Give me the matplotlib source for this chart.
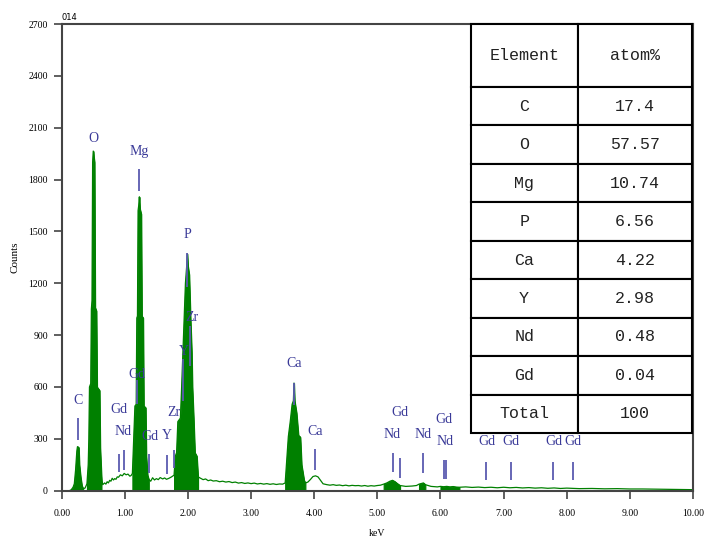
import numpy as np
import matplotlib.pyplot as plt

# EDS spectrum (keV, counts)
energy_kev = [0.00, 0.12, 0.15, 0.18, 0.20, 0.22, 0.24, 0.25, 0.27, 0.28, 0.30, 0.32, 0.34,
              0.37, 0.40, 0.42, 0.43, 0.44, 0.46, 0.47, 0.48, 0.49, 0.50, 0.51, 0.52, 0.53,
              0.55, 0.56, 0.60, 0.61, 0.63, 0.65, 0.68, 0.70, 0.72, 0.74, 0.76, 0.78, 0.80,
              0.82, 0.84, 0.86, 0.88, 0.90, 0.93, 0.96, 0.99, 1.02, 1.05, 1.08, 1.10, 1.12,
              1.14, 1.16, 1.18, 1.19, 1.20, 1.21, 1.22, 1.23, 1.24, 1.26, 1.27, 1.29, 1.30,
              1.33, 1.34, 1.36, 1.38, 1.41, 1.44, 1.47, 1.50, 1.53, 1.56, 1.60, 1.63, 1.66,
              1.70, 1.74, 1.78, 1.80, 1.82, 1.84, 1.88, 1.90, 1.92, 1.94, 1.96, 1.98, 1.99,
              2.00, 2.02, 2.04, 2.06, 2.07, 2.09, 2.11, 2.14, 2.16, 2.20, 2.24, 2.28, 2.32,
              2.36, 2.40, 2.45, 2.50, 2.55, 2.60, 2.65, 2.70, 2.75, 2.80, 2.85, 2.90, 2.95,
              3.00, 3.05, 3.10, 3.15, 3.20, 3.25, 3.30, 3.35, 3.40, 3.45, 3.50, 3.54, 3.56,
              3.59, 3.62, 3.65, 3.67, 3.68, 3.69, 3.72, 3.75, 3.78, 3.80, 3.84, 3.86, 3.90,
              3.94, 3.98, 4.02, 4.06, 4.10, 4.14, 4.20, 4.25, 4.30, 4.35, 4.40, 4.45, 4.50,
              4.55, 4.60, 4.65, 4.70, 4.75, 4.80, 4.85, 4.90, 4.95, 5.00, 5.05, 5.10, 5.15,
              5.20, 5.24, 5.28, 5.32, 5.36, 5.45, 5.55, 5.62, 5.66, 5.70, 5.73, 5.76, 5.85,
              5.95, 6.00, 6.05, 6.10, 6.15, 6.20, 6.25, 6.30, 6.40, 6.50, 6.60, 6.70, 6.80,
              6.90, 7.00, 7.10, 7.20, 7.30, 7.40, 7.50, 7.60, 7.70, 7.80, 7.90, 8.00, 8.20,
              8.40, 8.60, 8.80, 9.00, 9.20, 9.40, 9.60, 9.80, 10.00]
counts = [0, 0, 5, 20, 40, 120, 230, 255, 250, 150, 80, 30, 12,
          15, 40, 150, 300, 600, 620, 1050, 1100, 1900, 1965, 1930, 1900, 1060,
          1040, 600, 580, 250, 80, 35, 45, 38, 52, 45, 60, 55, 72,
          62, 70, 66, 80, 78, 92, 86, 100, 92, 96, 84, 88, 100,
          300, 490, 500, 1000, 1010, 1620, 1650, 1700, 1630, 1600, 1010, 1000, 490,
          480, 200, 90, 65, 55, 75, 62, 70, 64, 76, 68, 74, 66,
          72, 80, 90, 200, 220, 400, 420, 600, 800, 1000, 1200, 1300, 1370,
          1300, 1250, 1000, 800, 600, 420, 220, 200, 80, 72, 64, 68, 58,
          62, 56, 58, 52, 55, 50, 53, 47, 50, 44, 47, 42, 45,
          41, 44, 39, 42, 38, 41, 37, 40, 36, 39, 38, 45, 150,
          313, 400, 500, 520, 623, 520, 450, 320, 310, 150, 60, 45, 50,
          65, 82, 86, 80, 60, 40, 35, 32, 35, 31, 33, 29, 32,
          28, 31, 29, 30, 27, 30, 26, 29, 27, 30, 32, 38, 45,
          55, 60, 52, 40, 30, 25, 27, 30, 38, 42, 45, 35, 25,
          22, 25, 23, 25, 22, 24, 21, 20, 22, 19, 21, 18, 20,
          17, 20, 17, 19, 16, 18, 15, 17, 14, 16, 13, 15, 12,
          13, 11, 12, 10, 10, 9, 8, 7, 6]

# highlighted (filled) regions of interest
roi_start = [0.15, 0.40, 1.12, 1.78, 3.54, 5.10, 5.66, 6.00]
roi_end = [0.34, 0.63, 1.38, 2.16, 3.86, 5.36, 5.76, 6.30]

# element marker lines: energy, bottom, top (counts)
marker_kev = [0.26, 0.91, 0.98, 1.19, 1.23, 1.39, 1.67, 1.78, 1.92, 1.99, 2.03, 3.68, 4.01,
              5.24, 5.36, 5.73, 6.06, 6.09, 6.72, 7.11, 7.79, 8.10]
marker_lo = [294, 110, 120, 500, 1732, 103, 97, 130, 520, 1180, 720, 497, 120,
             110, 72, 103, 68, 68, 62, 62, 62, 62]
marker_hi = [422, 213, 236, 640, 1859, 213, 207, 235, 760, 1378, 950, 625, 240,
             219, 190, 218, 178, 178, 168, 168, 168, 168]

# element labels: text, energy, counts (centre)
label_text = ['O', 'Mg', 'P', 'Zr', 'Y', 'Gd', 'C', 'Gd', 'Nd', 'Gd', 'Y', 'Zr', 'Ca', 'Ca',
              'Gd', 'Nd', 'Nd', 'Gd', 'Nd', 'Gd', 'Gd', 'Gd', 'Gd']
label_kev = [0.51, 1.23, 1.99, 2.06, 1.93, 1.19, 0.26, 0.91, 0.98, 1.40, 1.67, 1.77, 3.68, 4.01,
             5.36, 5.23, 5.72, 6.06, 6.07, 6.73, 7.11, 7.79, 8.10]
label_cnt = [2040, 1964, 1483, 1000, 803, 671, 520, 472, 342, 313, 317, 452, 735, 342,
             452, 323, 323, 414, 284, 284, 284, 284, 284]

elements = ['C', 'O', 'Mg', 'P', 'Ca', 'Y', 'Nd', 'Gd', 'Total']
atom_pct = ['17.4', '57.57', '10.74', '6.56', '4.22', '2.98', '0.48', '0.04', '100']

green = '#008000'
blue_line = '#5a5ab0'
blue_text = '#3a3a98'

fig = plt.figure(figsize=(7.14, 5.43), dpi=100)
ax = fig.add_axes([0.0864, 0.0963, 0.8842, 0.8595])

e = np.array(energy_kev)
c = np.array(counts)
ax.plot(e, c, color=green, lw=0.9, zorder=2)
for a, b in zip(roi_start, roi_end):
    m = (e >= a) & (e <= b)
    ax.fill_between(e[m], 0, c[m], color=green, lw=0.8, edgecolor=green, zorder=2)

ax.vlines(marker_kev, marker_lo, marker_hi, color=blue_line, lw=1.3, zorder=3)
for t, x, y in zip(label_text, label_kev, label_cnt):
    ax.text(x, y, t, color=blue_text, fontsize=10, family='Liberation Serif',
            ha='center', va='center', zorder=4)

ax.set_xlim(0, 10)
ax.set_ylim(0, 2700)
ax.set_xticks(np.arange(0, 11, 1))
ax.set_xticklabels(['%.2f' % v for v in range(11)])
ax.set_yticks(np.arange(0, 2701, 300))
ax.tick_params(direction='out', length=6, width=1.2, color='#444444',
               labelsize=7, pad=4)
for lab in ax.get_xticklabels() + ax.get_yticklabels():
    lab.set_family('Liberation Serif')
ax.tick_params(axis='x', pad=7)
for s in ax.spines.values():
    s.set_color('#444444')
    s.set_linewidth(1.5)

ax.set_xlabel('keV', fontsize=7, family='Liberation Serif', labelpad=8)
ax.set_ylabel('Counts', fontsize=8, family='Liberation Serif', labelpad=6)
ax.text(0.0, 1.004, '014', transform=ax.transAxes, fontsize=6,
        family='DejaVu Sans', va='bottom', ha='left')

# composition table
cells = [['Element', 'atom%']] + [[el, v] for el, v in zip(elements, atom_pct)]
tb = ax.table(cellText=cells, cellLoc='center', colWidths=[0.483, 0.517],
              bbox=[0.648, 0.1236, 0.35, 0.8764], zorder=5)
tb.auto_set_font_size(False)
nrows = len(cells)
hh = 63 / 409.0
rh = (1 - hh) / (nrows - 1)
for (r, col), cell in tb.get_celld().items():
    cell.set_linewidth(1.5)
    cell.set_edgecolor('black')
    cell.set_facecolor('white')
    cell.set_height(hh if r == 0 else rh)
    cell.get_text().set_fontsize(12)
    cell.get_text().set_family('Liberation Mono')
    cell.get_text().set_color('#222222')

fig.savefig('out.png', dpi=100)
